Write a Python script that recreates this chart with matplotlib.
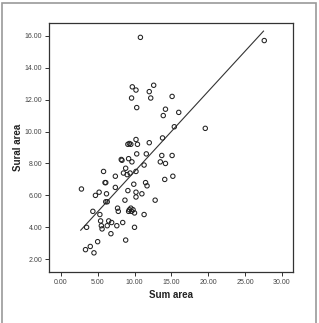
import matplotlib
matplotlib.use("Agg")
import matplotlib.pyplot as plt
import numpy as np
from matplotlib.patches import Rectangle

# values
sum_area = [10.8, 27.6, 12.6, 9.7, 10.2, 12.0, 9.6, 12.2, 15.1, 10.3,
            14.2, 16.0, 13.9, 15.4, 19.6, 13.8, 10.2, 12.0, 9.1, 9.3,
            9.5, 10.4, 11.6, 10.3, 13.7, 15.1, 9.2, 8.3, 8.2, 9.65,
            13.5, 14.2, 11.3, 8.8, 5.8, 10.2, 8.5, 9.4, 9.0, 7.4,
            15.2, 14.1, 6.0, 6.1, 11.5, 9.9, 11.7, 7.4, 2.8, 9.1,
            5.2, 10.2, 6.2, 11.0, 4.7, 10.2, 8.7, 12.8, 6.1, 6.3,
            4.35, 7.7, 7.8, 9.3, 9.5, 9.8, 9.2, 9.6, 10.0, 5.3,
            11.3, 5.4, 6.5, 6.9, 8.4, 5.5, 6.3, 7.6, 3.5, 10.0,
            5.6, 6.8, 8.8, 5.0, 4.0, 3.35, 4.5]
sural_area = [15.9, 15.7, 12.9, 12.8, 12.6, 12.5, 12.1, 12.1, 12.2, 11.5,
              11.4, 11.2, 11.0, 10.3, 10.2, 9.6, 9.5, 9.3, 9.2, 9.25,
              9.2, 9.2, 8.6, 8.6, 8.5, 8.5, 8.3, 8.2, 8.25, 8.1,
              8.1, 8.0, 7.9, 7.7, 7.5, 7.5, 7.4, 7.4, 7.3, 7.2,
              7.2, 7.0, 6.8, 6.8, 6.8, 6.7, 6.6, 6.5, 6.4, 6.3,
              6.2, 6.2, 6.1, 6.1, 6.0, 5.9, 5.7, 5.7, 5.6, 5.6,
              5.0, 5.2, 5.0, 5.1, 5.2, 5.1, 5.0, 5.0, 4.9, 4.8,
              4.8, 4.4, 4.4, 4.3, 4.3, 4.1, 4.1, 4.1, 4.0, 4.0,
              3.9, 3.6, 3.2, 3.1, 2.8, 2.6, 2.4]
fit_slope = 0.503
fit_intercept = 2.46
x_ticks = [0, 5, 10, 15, 20, 25, 30]
y_ticks = [2, 4, 6, 8, 10, 12, 14, 16]

plt.rcParams['font.family'] = ['Liberation Sans', 'DejaVu Sans']

fig = plt.figure(figsize=(3.19, 3.23), dpi=100)
fig.patches.append(Rectangle((2.5 / 319, -0.05), 313.5 / 319, 1.05 - 2.5 / 323,
                             transform=fig.transFigure, fill=False,
                             edgecolor='#9a9a9a', lw=1.2))
ax = fig.add_axes([49 / 319, 1 - 272 / 323, 244 / 319, 249 / 323])

ax.scatter(sum_area, sural_area, s=10, facecolors='none', edgecolors='#222222',
           linewidths=0.75, zorder=3)
xl = np.array([min(sum_area) - 0.1, max(sum_area) - 0.1])
ax.plot(xl, fit_intercept + fit_slope * xl, color='#333333', lw=0.8)

ax.set_xlim(-1.6, 31.5)
ax.set_ylim(1.2, 16.8)
ax.set_xticks(x_ticks)
ax.set_xticklabels(['%.2f' % v for v in x_ticks])
ax.set_yticks(y_ticks)
ax.set_yticklabels(['%.2f' % v for v in y_ticks])
ax.tick_params(labelsize=5, length=3, width=0.7, color='#333333',
               labelcolor='#444444', pad=2)
for sp in ax.spines.values():
    sp.set_color('#333333')
    sp.set_linewidth(0.9)
ax.set_xlabel('Sum area', fontsize=7, fontweight='bold', color='#222222', labelpad=3)
ax.set_ylabel('Sural area', fontsize=7, fontweight='bold', color='#222222', labelpad=1)

fig.savefig('out.png', dpi=100)
